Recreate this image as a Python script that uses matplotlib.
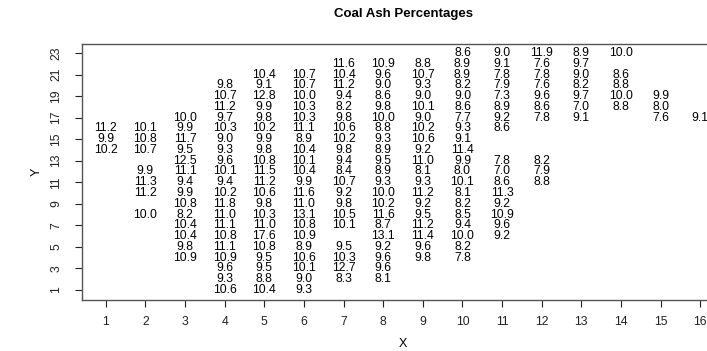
import matplotlib
matplotlib.use("Agg")
import matplotlib.pyplot as plt

# coal ash percentages, one list per row of the grid (y), values by column x
rows = {
    23: [(10, 8.6), (11, 9.0), (12, 11.9), (13, 8.9), (14, 10.0)],
    22: [(7, 11.6), (8, 10.9), (9, 8.8), (10, 8.9), (11, 9.1), (12, 7.6), (13, 9.7)],
    21: [(5, 10.4), (6, 10.7), (7, 10.4), (8, 9.6), (9, 10.7), (10, 8.9), (11, 7.8), (12, 7.8), (13, 9.0), (14, 8.6)],
    20: [(4, 9.8), (5, 9.1), (6, 10.7), (7, 11.2), (8, 9.0), (9, 9.3), (10, 8.2), (11, 7.9), (12, 7.6), (13, 8.2), (14, 8.8)],
    19: [(4, 10.7), (5, 12.8), (6, 10.0), (7, 9.4), (8, 8.6), (9, 9.0), (10, 9.0), (11, 7.3), (12, 9.6), (13, 9.7), (14, 10.0), (15, 9.9)],
    18: [(4, 11.2), (5, 9.9), (6, 10.3), (7, 8.2), (8, 9.8), (9, 10.1), (10, 8.6), (11, 8.9), (12, 8.6), (13, 7.0), (14, 8.8), (15, 8.0)],
    17: [(3, 10.0), (4, 9.7), (5, 9.8), (6, 10.3), (7, 9.8), (8, 10.0), (9, 9.0), (10, 7.7), (11, 9.2), (12, 7.8), (13, 9.1), (15, 7.6), (16, 9.1)],
    16: [(1, 11.2), (2, 10.1), (3, 9.9), (4, 10.3), (5, 10.2), (6, 11.1), (7, 10.6), (8, 8.8), (9, 10.2), (10, 9.3), (11, 8.6)],
    15: [(1, 9.9), (2, 10.8), (3, 11.7), (4, 9.0), (5, 9.9), (6, 8.9), (7, 10.2), (8, 9.3), (9, 10.6), (10, 9.1)],
    14: [(1, 10.2), (2, 10.7), (3, 9.5), (4, 9.3), (5, 9.8), (6, 10.4), (7, 9.8), (8, 8.9), (9, 9.2), (10, 11.4)],
    13: [(3, 12.5), (4, 9.6), (5, 10.8), (6, 10.1), (7, 9.4), (8, 9.5), (9, 11.0), (10, 9.9), (11, 7.8), (12, 8.2)],
    12: [(2, 9.9), (3, 11.1), (4, 10.1), (5, 11.5), (6, 10.4), (7, 8.4), (8, 8.9), (9, 8.1), (10, 8.0), (11, 7.0), (12, 7.9)],
    11: [(2, 11.3), (3, 9.4), (4, 9.4), (5, 11.2), (6, 9.9), (7, 10.7), (8, 9.3), (9, 9.3), (10, 10.1), (11, 8.6), (12, 8.8)],
    10: [(2, 11.2), (3, 9.9), (4, 10.2), (5, 10.6), (6, 11.6), (7, 9.2), (8, 10.0), (9, 11.2), (10, 8.1), (11, 11.3)],
    9: [(3, 10.8), (4, 11.8), (5, 9.8), (6, 11.0), (7, 9.8), (8, 10.2), (9, 9.2), (10, 8.2), (11, 9.2)],
    8: [(2, 10.0), (3, 8.2), (4, 11.0), (5, 10.3), (6, 13.1), (7, 10.5), (8, 11.6), (9, 9.5), (10, 8.5), (11, 10.9)],
    7: [(3, 10.4), (4, 11.1), (5, 11.0), (6, 10.8), (7, 10.1), (8, 8.7), (9, 11.2), (10, 9.4), (11, 9.6)],
    6: [(3, 10.4), (4, 10.8), (5, 17.6), (6, 10.9), (8, 13.1), (9, 11.4), (10, 10.0), (11, 9.2)],
    5: [(3, 9.8), (4, 11.1), (5, 10.8), (6, 8.9), (7, 9.5), (8, 9.2), (9, 9.6), (10, 8.2)],
    4: [(3, 10.9), (4, 10.9), (5, 9.5), (6, 10.6), (7, 10.3), (8, 9.6), (9, 9.8), (10, 7.8)],
    3: [(4, 9.6), (5, 9.5), (6, 10.1), (7, 12.7), (8, 9.6)],
    2: [(4, 9.3), (5, 8.8), (6, 9.0), (7, 8.3), (8, 8.1)],
    1: [(4, 10.6), (5, 10.4), (6, 9.3)],
}

x_ticks = list(range(1, 17))
y_ticks = list(range(1, 24, 2))

plt.rcParams['font.family'] = ['Liberation Sans', 'DejaVu Sans']

fig = plt.figure(figsize=(7.07, 3.51), dpi=100)
# axes run past the right edge of the figure, like the original
ax = fig.add_axes([82 / 707, 51.5 / 351, 642 / 707, 256 / 351])

for y, cells in rows.items():
    for x, v in cells:
        ax.text(x, y, f"{v:.1f}", ha='center', va='center', fontsize=8.8, clip_on=False)

ax.set_xlim(0.4, 16.6)
ax.set_ylim(0.12, 23.88)
ax.set_xticks(x_ticks)
ax.set_yticks(y_ticks)
ax.tick_params(direction='out', length=5, width=0.8, labelsize=8.8, colors='#222222')
ax.tick_params(axis='x', pad=7)
ax.tick_params(axis='y', pad=9)
for lab in ax.get_yticklabels():
    lab.set_rotation(90)
    lab.set_va('center')
for s in ax.spines.values():
    s.set_color('#555555')
    s.set_linewidth(1.0)

ax.set_xlabel('X', fontsize=9, labelpad=7)
ax.set_ylabel('Y', fontsize=9, labelpad=6)
fig.text(403 / 707, 1 - 14 / 351, 'Coal Ash Percentages', ha='center', va='center',
         fontsize=9.5, fontweight='bold')

plt.savefig('out.png', dpi=100)
